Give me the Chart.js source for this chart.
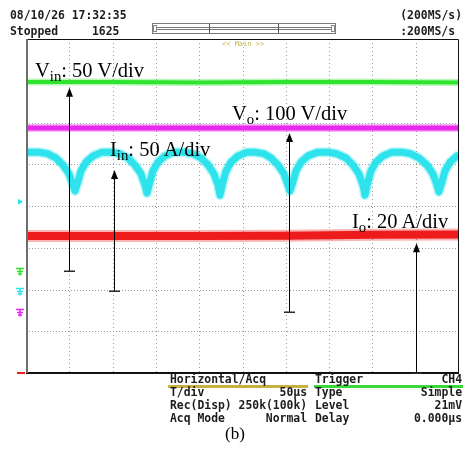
<!DOCTYPE html>
<html>
<head>
<meta charset="utf-8">
<script src="https://cdn.jsdelivr.net/npm/chart.js@4.4.0/dist/chart.umd.min.js"></script>
<style>
  html, body { margin: 0; padding: 0; background: #fff; }
  #wrap { position: relative; width: 464px; height: 454px; overflow: hidden; background: #fff; }
  #scope { position: absolute; left: 0; top: 0; }
  .t { position: absolute; white-space: pre; line-height: 1; }
  .m { font-family: "DejaVu Sans Mono", "Liberation Mono", monospace; font-weight: bold; font-size: 11.4px; color: #1c1c1c; }
  .s { font-family: "Liberation Serif", "Times New Roman", serif; font-size: 20.5px; color: #000; }
  .sub { font-size: 0.72em; position: relative; top: 0.3em; }
  .bar { position: absolute; height: 3px; }
</style>
</head>
<body>
<div id="wrap">
  <canvas id="scope" width="464" height="454"></canvas>

  <!-- header -->
  <div class="t m" style="left:10px; top:10.3px;">08/10/26 17:32:35</div>
  <div class="t m" style="left:10px; top:25.8px;">Stopped</div>
  <div class="t m" style="left:92px; top:25.8px;">1625</div>
  <div class="t m" style="right:2px; top:10.3px;">(200MS/s)</div>
  <div class="t m" style="right:9px; top:25.8px;">:200MS/s</div>
  <div class="t" style="left:222px; top:41px; font-family:'DejaVu Sans Mono',monospace; font-size:7px; color:#c4b652;">&lt;&lt; Main &gt;&gt;</div>

  <!-- channel labels -->
  <div class="t s" style="left:35px; top:59.8px;">V<span class="sub">in</span>: 50 V/div</div>
  <div class="t s" style="left:232px; top:102.8px;">V<span class="sub">o</span>: 100 V/div</div>
  <div class="t s" style="left:110px; top:138.8px;">I<span class="sub">in</span>: 50 A/div</div>
  <div class="t s" style="left:352px; top:210.8px;">I<span class="sub">o</span>: 20 A/div</div>

  <!-- settings panel -->
  <div class="bar" style="left:168px; top:385px; width:140px; background:#c8b040;"></div>
  <div class="bar" style="left:314px; top:385px; width:149px; background:#3ad83a;"></div>
  <div class="t m" style="left:170px; top:373.6px;">Horizontal/Acq</div>
  <div class="t m" style="left:315px; top:373.6px;">Trigger</div>
  <div class="t m" style="right:2px; top:373.6px;">CH4</div>

  <div class="t m" style="left:170px; top:387.3px;">T/div</div>
  <div class="t m" style="right:157px; top:387.3px;">50µs</div>
  <div class="t m" style="left:315px; top:387.3px;">Type</div>
  <div class="t m" style="right:2px; top:387.3px;">Simple</div>

  <div class="t m" style="left:170px; top:400.3px;">Rec(Disp) 250k(100k)</div>
  <div class="t m" style="left:315px; top:400.3px;">Level</div>
  <div class="t m" style="right:2px; top:400.3px;">21mV</div>

  <div class="t m" style="left:170px; top:413px;">Acq Mode</div>
  <div class="t m" style="right:157px; top:413px;">Normal</div>
  <div class="t m" style="left:315px; top:413px;">Delay</div>
  <div class="t m" style="right:2px; top:413px;">0.000µs</div>

  <div class="t" style="left:225px; top:424.5px; font-family:'Liberation Serif',serif; font-size:17px; color:#000;">(b)</div>
</div>

<script>
// Screen: 10 divisions x 50 µs, 8 vertical divisions (0 = bottom of screen).
const timeMin = 0, timeMax = 500, timeDiv = 50;
const levelMin = 0, levelMax = 8;

// CH1 (green) input voltage, CH3 (magenta) output voltage, CH4 (red) output current
const vinTime = [0, 100, 200, 300, 400, 500];
const vinLevel = [6.97, 6.97, 6.96, 6.97, 6.97, 6.96];
const voTime = [0, 100, 200, 300, 400, 500];
const voLevel = [5.87, 5.87, 5.87, 5.87, 5.87, 5.87];
const ioTime = [0, 100, 200, 300, 400, 500];
const ioLevel = [3.28, 3.28, 3.28, 3.29, 3.31, 3.32];

// CH2 (cyan) input current, scalloped ripple
const iinTime = [
  0, 4.6, 15.0, 25.4, 34.6, 42.7, 49.7, 54.3, 56.6,
  60.0, 63.5, 69.3, 77.4, 87.8, 98.2, 108.5, 117.8, 125.8, 132.8, 137.4, 139.7,
  143.2, 146.6, 152.4, 160.5, 170.9, 182.4, 192.8, 202.1, 210.2, 217.1, 221.7, 224.0,
  227.5, 231.0, 236.7, 244.8, 255.2, 264.4, 274.8, 282.9, 291.0, 297.9, 302.5, 304.8,
  308.3, 311.8, 317.5, 325.6, 337.2, 348.7, 359.1, 369.5, 377.6, 384.5, 389.1, 391.4,
  394.9, 398.3, 404.1, 412.2, 422.6, 434.1, 444.5, 453.8, 463.0, 469.9, 474.6, 476.8,
  480.4, 483.8, 489.6, 497.7, 500
];
const iinLevel = [
  5.28, 5.29, 5.29, 5.25, 5.15, 4.98, 4.77, 4.50, 4.36,
  4.58, 4.84, 5.05, 5.20, 5.29, 5.29, 5.25, 5.15, 4.98, 4.77, 4.50, 4.31,
  4.58, 4.84, 5.05, 5.20, 5.29, 5.29, 5.25, 5.15, 4.98, 4.77, 4.50, 4.26,
  4.58, 4.84, 5.05, 5.20, 5.29, 5.29, 5.25, 5.15, 4.98, 4.77, 4.50, 4.36,
  4.58, 4.84, 5.05, 5.20, 5.29, 5.29, 5.25, 5.15, 4.98, 4.77, 4.50, 4.26,
  4.58, 4.84, 5.05, 5.20, 5.29, 5.29, 5.25, 5.15, 4.98, 4.77, 4.50, 4.34,
  4.58, 4.84, 5.05, 5.20, 5.23
];

// Channel ground markers and the scale arrows (Vin, Iin, Vo, Io)
const channelColor = ['#2fe52f', '#2fe3ee', '#ea2aea', '#ee1c1c'];
const groundLevel = [2.44, 1.96, 1.46, 0];
const arrowTime = [49.7, 101.6, 303.7, 450.3];
const arrowTip = [6.83, 4.86, 5.75, 3.11];
const triggerLevel = 4.1;

function points(xs, ys) { return xs.map((t, i) => ({ x: t, y: ys[i] })); }

function trace(data, color, width) {
  return { data, borderColor: color, borderWidth: width, pointRadius: 0, tension: 0,
           borderCapStyle: 'butt', borderJoinStyle: 'round', fill: false };
}

// faint wider band under each trace for the acquisition noise
function halo(data, color, width) {
  const d = trace(data, color, width);
  d.borderColor = color + '55';
  return d;
}

const scopeDecor = {
  id: 'scopeDecor',
  beforeDatasetsDraw(chart) {
    const { ctx, chartArea: a, scales: { x, y } } = chart;
    ctx.save();
    ctx.strokeStyle = '#9b9b9b';
    ctx.lineWidth = 1;
    ctx.setLineDash([1, 3]);
    for (let t = timeMin + timeDiv; t < timeMax; t += timeDiv) {
      const px = Math.round(x.getPixelForValue(t)) + 0.5;
      ctx.beginPath(); ctx.moveTo(px, a.top); ctx.lineTo(px, a.bottom); ctx.stroke();
    }
    ctx.setLineDash([1, 2]);
    for (let v = levelMin + 1; v < levelMax; v++) {
      const py = Math.round(y.getPixelForValue(v)) + 0.5;
      ctx.beginPath(); ctx.moveTo(a.left, py); ctx.lineTo(a.right, py); ctx.stroke();
    }
    ctx.restore();
  },
  afterDatasetsDraw(chart) {
    const { ctx, chartArea: a, scales: { x, y } } = chart;
    ctx.save();
    // screen frame
    ctx.strokeStyle = '#111';
    ctx.lineWidth = 1;
    ctx.beginPath();
    ctx.moveTo(a.left, a.top + 0.5); ctx.lineTo(a.right - 0.5, a.top + 0.5); ctx.lineTo(a.right - 0.5, a.bottom);
    ctx.stroke();
    ctx.lineWidth = 2;
    ctx.beginPath(); ctx.moveTo(a.left, a.bottom); ctx.lineTo(a.right, a.bottom); ctx.stroke();
    ctx.strokeStyle = '#6d6d6d';
    ctx.beginPath(); ctx.moveTo(a.left + 1, a.top); ctx.lineTo(a.left + 1, a.bottom); ctx.stroke();

    // scale arrows from each channel's ground level up to its trace
    for (let i = 0; i < arrowTime.length; i++) {
      const px = Math.round(x.getPixelForValue(arrowTime[i])) + 0.5;
      const yb = y.getPixelForValue(groundLevel[i]);
      const yt = y.getPixelForValue(arrowTip[i]);
      ctx.strokeStyle = '#000'; ctx.lineWidth = 1;
      ctx.beginPath(); ctx.moveTo(px, yb); ctx.lineTo(px, yt + 8); ctx.stroke();
      ctx.fillStyle = '#000';
      ctx.beginPath(); ctx.moveTo(px, yt); ctx.lineTo(px - 3.5, yt + 9); ctx.lineTo(px + 3.5, yt + 9); ctx.closePath(); ctx.fill();
      ctx.strokeStyle = '#2a2a2a'; ctx.lineWidth = 1.5;
      ctx.beginPath(); ctx.moveTo(px - 5.5, Math.round(yb) + 0.25); ctx.lineTo(px + 5.5, Math.round(yb) + 0.25); ctx.stroke();
    }

    // ground markers left of the screen
    for (let i = 0; i < 3; i++) {
      const py = Math.round(y.getPixelForValue(groundLevel[i])) + 0.5;
      ctx.strokeStyle = channelColor[i]; ctx.lineWidth = 1.5;
      ctx.beginPath();
      ctx.moveTo(16, py - 3); ctx.lineTo(24, py - 3);
      ctx.moveTo(20, py - 3); ctx.lineTo(20, py + 4);
      ctx.moveTo(17, py); ctx.lineTo(23, py);
      ctx.moveTo(18, py + 2.5); ctx.lineTo(22, py + 2.5);
      ctx.stroke();
    }
    ctx.strokeStyle = channelColor[3]; ctx.lineWidth = 2;
    ctx.beginPath(); ctx.moveTo(17, a.bottom); ctx.lineTo(25, a.bottom); ctx.stroke();
    // trigger level marker
    const ty = y.getPixelForValue(triggerLevel);
    ctx.fillStyle = channelColor[1];
    ctx.beginPath(); ctx.moveTo(18, ty - 3); ctx.lineTo(23, ty); ctx.lineTo(18, ty + 3); ctx.closePath(); ctx.fill();
    ctx.restore();
  },
  afterDraw(chart) {
    // record position bar in the header
    const ctx = chart.ctx;
    ctx.save();
    ctx.strokeStyle = '#7a7a7a'; ctx.lineWidth = 1;
    ctx.strokeRect(152.5, 23.5, 183, 10);
    ctx.beginPath();
    ctx.moveTo(157, 27.5); ctx.lineTo(331, 27.5);
    ctx.moveTo(157, 29.5); ctx.lineTo(331, 29.5);
    ctx.stroke();
    ctx.strokeStyle = '#555';
    ctx.beginPath();
    ctx.moveTo(209.5, 24); ctx.lineTo(209.5, 33);
    ctx.moveTo(278.5, 24); ctx.lineTo(278.5, 33);
    ctx.stroke();
    ctx.strokeStyle = '#888';
    ctx.strokeRect(153.5, 25.5, 3, 6);
    ctx.strokeRect(331.5, 25.5, 3, 6);
    ctx.restore();
  }
};

const vinPts = points(vinTime, vinLevel);
const voPts = points(voTime, voLevel);
const iinPts = points(iinTime, iinLevel);
const ioPts = points(ioTime, ioLevel);

new Chart(document.getElementById('scope'), {
  type: 'line',
  data: {
    datasets: [
      halo(vinPts, channelColor[0], 7),
      trace(vinPts, channelColor[0], 4),
      halo(voPts, channelColor[2], 8),
      trace(voPts, channelColor[2], 5),
      halo(iinPts, channelColor[1], 10),
      trace(iinPts, channelColor[1], 7),
      halo(ioPts, channelColor[3], 12),
      trace(ioPts, channelColor[3], 8)
    ]
  },
  options: {
    responsive: false,
    animation: false,
    devicePixelRatio: 1,
    layout: { padding: { left: 26, top: 39, right: 5, bottom: 81 } },
    plugins: { legend: { display: false }, tooltip: { enabled: false } },
    scales: {
      x: { type: 'linear', display: false, min: timeMin, max: timeMax },
      y: { type: 'linear', display: false, min: levelMin, max: levelMax }
    }
  },
  plugins: [scopeDecor]
});
</script>
</body>
</html>
